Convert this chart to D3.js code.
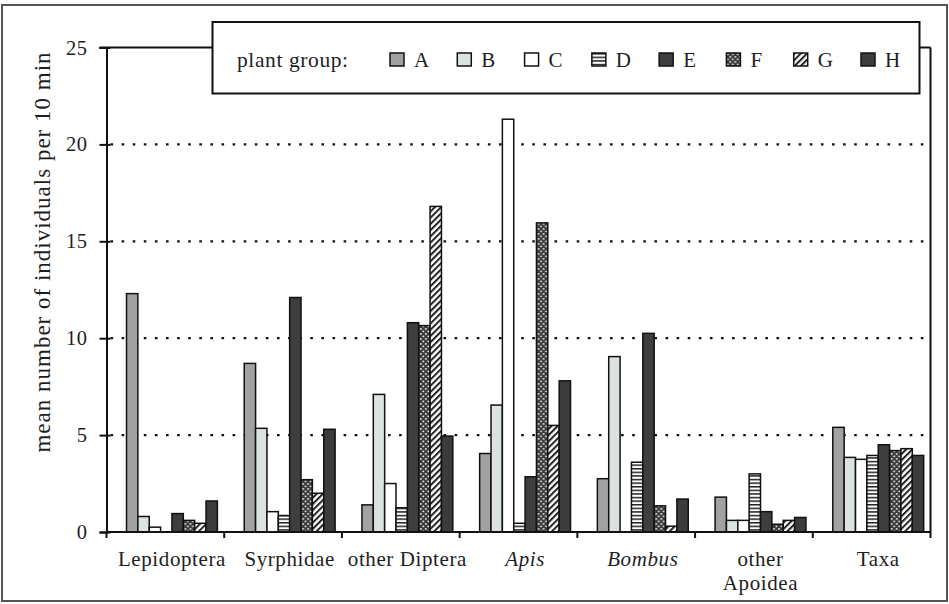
<!DOCTYPE html>
<html><head><meta charset="utf-8">
<script src="https://cdn.jsdelivr.net/npm/d3@7"></script>
<style>body{margin:0;background:#fff}svg{display:block}</style>
</head><body>
<svg id="c" width="949" height="604"></svg>
<script>
const categories = ["Lepidoptera","Syrphidae","other Diptera","Apis","Bombus","other Apoidea","Taxa"];
const italicCats = ["Apis","Bombus"];
const groups = ["A","B","C","D","E","F","G","H"];
const valA = [12.3, 8.7, 1.4, 4.05, 2.75, 1.8, 5.4];
const valB = [0.8, 5.35, 7.1, 6.55, 9.05, 0.6, 3.85];
const valC = [0.25, 1.05, 2.5, 21.3, 0, 0.6, 3.75];
const valD = [0, 0.85, 1.25, 0.45, 3.6, 3.0, 3.95];
const valE = [0.95, 12.1, 10.8, 2.85, 10.25, 1.05, 4.5];
const valF = [0.6, 2.7, 10.65, 15.95, 1.35, 0.4, 4.2];
const valG = [0.45, 2.0, 16.8, 5.5, 0.3, 0.6, 4.3];
const valH = [1.6, 5.3, 4.95, 7.8, 1.7, 0.75, 3.95];
const series = [valA,valB,valC,valD,valE,valF,valG,valH];
const yTicks = [0,5,10,15,20,25];
const legendTitle = "plant group:";
const yTitle = "mean number of individuals per 10 min";

const svg = d3.select("#c");
const font = "'Liberation Serif','Times New Roman',serif";
const ink = "#1e1e1e";

// patterns
const defs = svg.append("defs");
const pD = defs.append("pattern").attr("id","pD").attr("patternUnits","userSpaceOnUse").attr("width",4).attr("height",3.6);
pD.append("rect").attr("width",4).attr("height",3.6).attr("fill","#fff");
pD.append("rect").attr("width",4).attr("height",1.5).attr("fill","#222");
const pF = defs.append("pattern").attr("id","pF").attr("patternUnits","userSpaceOnUse").attr("width",5).attr("height",5);
pF.append("rect").attr("width",5).attr("height",5).attr("fill","#3a3a3a");
pF.append("rect").attr("x",0.6).attr("y",0.6).attr("width",1.6).attr("height",1.6).attr("fill","#f4f4f4");
pF.append("rect").attr("x",3.1).attr("y",3.1).attr("width",1.6).attr("height",1.6).attr("fill","#f4f4f4");
const pG = defs.append("pattern").attr("id","pG").attr("patternUnits","userSpaceOnUse").attr("width",4.4).attr("height",4.4).attr("patternTransform","rotate(45)");
pG.append("rect").attr("width",4.4).attr("height",4.4).attr("fill","#fff");
pG.append("rect").attr("width",2).attr("height",4.4).attr("fill","#222");

const fills = {A:"#a2a2a2",B:"#dce2e2",C:"#ffffff",D:"url(#pD)",E:"#3e3e3e",F:"url(#pF)",G:"url(#pG)",H:"#3c3c3c"};

// outer frame
svg.append("rect").attr("x",2).attr("y",5).attr("width",945).attr("height",596)
  .attr("fill","none").attr("stroke","#555").attr("stroke-width",2);

const L = 106.5, R = 930.5, T = 47.5, B = 532;
const x = d3.scaleBand().domain(categories).range([L,R]).padding(0);
const bw = x.bandwidth();
const xi = d3.scaleBand().domain(groups).range([bw*0.17, bw*0.942]).padding(0);
const y = d3.scaleLinear().domain([0,25]).range([B,T]);

// gridlines
svg.append("g").selectAll("line").data(yTicks.filter(t=>t>0 && t<25)).join("line")
  .attr("x1",L+4).attr("x2",R).attr("y1",d=>y(d)).attr("y2",d=>y(d))
  .attr("stroke","#111").attr("stroke-width",2.2).attr("stroke-dasharray","2.6,8.5");

// bars
const gCat = svg.append("g").selectAll("g").data(categories).join("g")
  .attr("transform",d=>`translate(${x(d)},0)`);
gCat.selectAll("rect").data((c,ci)=>groups.map((g,gi)=>({g, v:series[gi][ci]})).filter(d=>d.v>0)).join("rect")
  .attr("x",d=>xi(d.g)).attr("width",xi.bandwidth())
  .attr("y",d=>y(d.v)).attr("height",d=>y(0)-y(d.v))
  .attr("fill",d=>fills[d.g]).attr("stroke","#111").attr("stroke-width",1.5);

// plot frame: top line and right line
svg.append("line").attr("x1",L-7).attr("x2",R).attr("y1",y(25)).attr("y2",y(25)).attr("stroke","#111").attr("stroke-width",2);
svg.append("line").attr("x1",R).attr("x2",R).attr("y1",y(25)).attr("y2",B).attr("stroke","#111").attr("stroke-width",2);

// y axis
const yAxis = svg.append("g").attr("transform",`translate(${L},0)`)
  .call(d3.axisLeft(y).tickValues(yTicks).tickSize(7).tickPadding(12).tickFormat(d3.format("d")));
yAxis.select(".domain").attr("stroke","#111").attr("stroke-width",2);
yAxis.selectAll(".tick line").attr("stroke","#111").attr("stroke-width",2).attr("x2",-7).attr("x1",4);
yAxis.selectAll(".tick text").attr("font-family",font).attr("font-size",20.5).attr("fill",ink).attr("letter-spacing",0.5);

// x axis
const xAxis = svg.append("g").attr("transform",`translate(0,${B})`);
xAxis.append("line").attr("x1",L).attr("x2",R).attr("stroke","#111").attr("stroke-width",2);
xAxis.selectAll("line.t").data(categories.map(c=>x(c)).concat([R])).join("line").attr("class","t")
  .attr("x1",d=>d).attr("x2",d=>d).attr("y1",0).attr("y2",6).attr("stroke","#111").attr("stroke-width",2);
const labs = xAxis.selectAll("text").data(categories).join("text")
  .attr("x",d=>x(d)+(xi.range()[0]+xi.range()[1])/2)
  .attr("y",34)
  .attr("text-anchor","middle").attr("font-family",font).attr("font-size",21).attr("fill",ink)
  .attr("letter-spacing",0.6)
  .attr("font-style",d=>italicCats.includes(d)?"italic":"normal");
labs.each(function(d){
  const t = d3.select(this);
  if(d==="other Apoidea"){
    t.append("tspan").attr("x",t.attr("x")).attr("dy",0).text("other");
    t.append("tspan").attr("x",t.attr("x")).attr("dy",24).text("Apoidea");
  } else t.text(d);
});

// y title
svg.append("text").attr("transform",`translate(50,${252}) rotate(-90)`)
  .attr("text-anchor","middle").attr("font-family",font).attr("font-size",23).attr("fill",ink)
  .attr("letter-spacing",1).text(yTitle);

// legend
const lg = svg.append("g");
lg.append("rect").attr("x",212.5).attr("y",22).attr("width",707).attr("height",71.5)
  .attr("fill","#fff").attr("stroke","#111").attr("stroke-width",2);
lg.append("text").attr("x",237).attr("y",67).attr("font-family",font).attr("font-size",21.5).attr("fill",ink)
  .attr("letter-spacing",0.6).text(legendTitle);
const lx = d3.scalePoint().domain(groups).range([390,861]);
const li = lg.selectAll("g.it").data(groups).join("g").attr("class","it")
  .attr("transform",d=>`translate(${lx(d)},53)`);
li.append("rect").attr("width",14).attr("height",13).attr("fill",d=>fills[d]).attr("stroke","#111").attr("stroke-width",1.5);
li.append("text").attr("x",24).attr("y",14).attr("font-family",font).attr("font-size",21).attr("fill",ink).text(d=>d);
</script>
</body></html>
